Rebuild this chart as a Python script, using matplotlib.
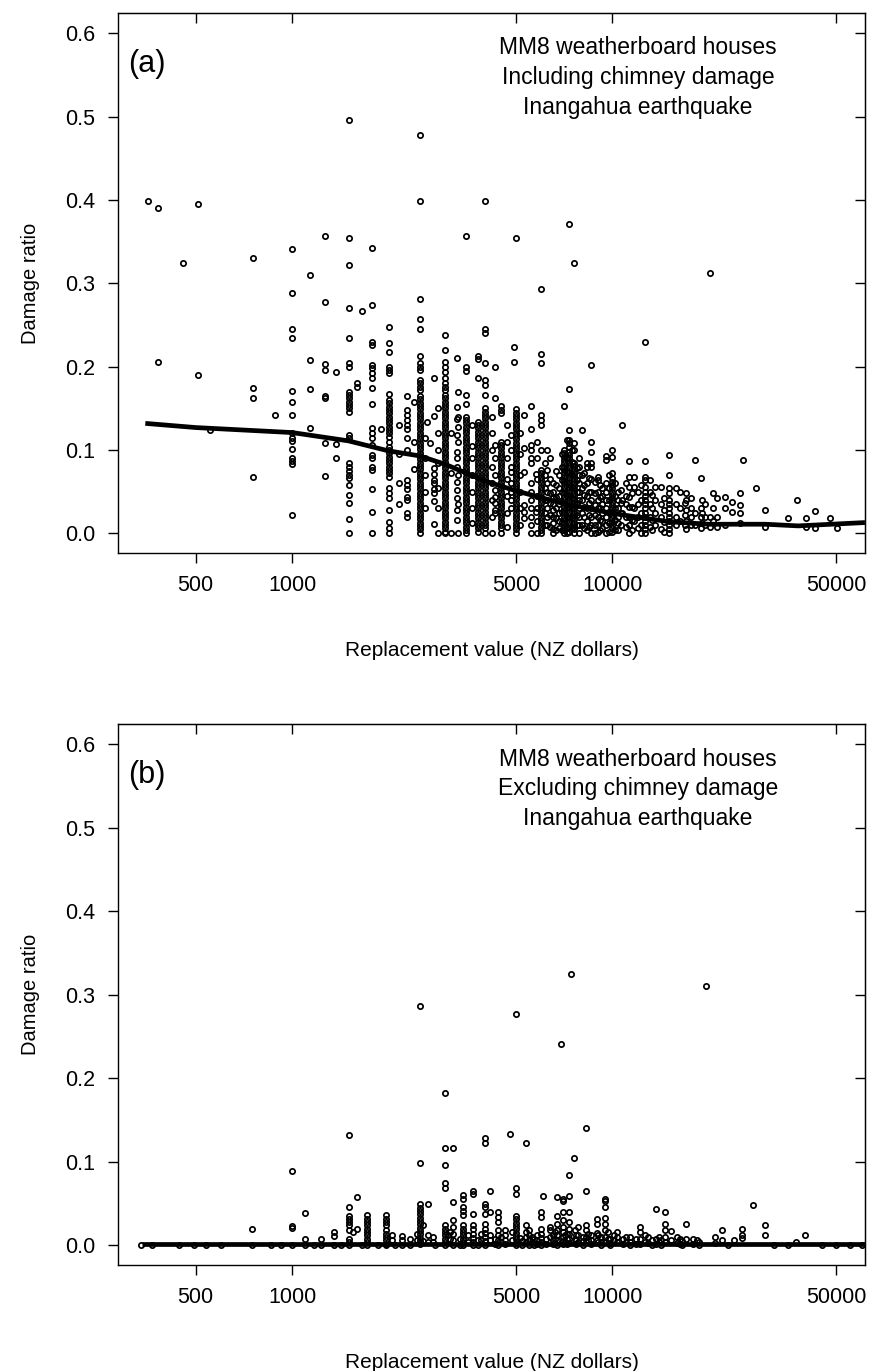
import matplotlib.pyplot as plt
from matplotlib.ticker import FixedLocator, NullLocator, FixedFormatter

plt.rcParams['font.family'] = ['Liberation Sans', 'DejaVu Sans']

# ---- panel (a): including chimney damage ----
# replacement values (NZ$) of the point columns, and the damage ratios in each column
a_value = [355, 382, 457, 508, 555, 757, 885, 1000, 1140, 1270, 1370, 1500, 1590, 1650,
           1770, 1890, 2000, 2280, 2400, 2500, 2640, 2690, 2770, 3000, 3140, 3270, 3500,
           3800, 4000, 4300, 4500, 4820, 4930, 5000, 5300, 5550, 5760, 6000, 6250, 6500,
           6800, 7050, 7340, 7600, 7850, 8060, 8300, 8600, 9000, 9300, 9560, 10000, 10400,
           10740, 11000, 11300, 11700, 12000, 12600, 13100, 13600, 14200, 15050, 15800,
           16300, 17000, 17600, 18100, 18900, 19500, 20200, 20600, 21200, 22500, 23600,
           25000, 25500, 28000, 30000, 35200, 37600, 40300, 43000, 47900, 50400,
           2150, 2600, 2850, 3300, 3650, 4200, 4700, 5150, 5800, 6150, 6400, 6650, 6950,
           7200, 7450, 7750, 8150, 8450, 8800, 9150, 9750, 10200, 10600, 11500, 12300,
           13300, 14500, 16800, 19000]
a_ratio = [
    [0.399],
    [0.391, 0.206],
    [0.325],
    [0.395, 0.19],
    [0.124],
    [0.331, 0.175, 0.163, 0.068],
    [0.142],
    [0.341, 0.288, 0.245, 0.234, 0.171, 0.158, 0.142, 0.12, 0.115, 0.111, 0.101, 0.091,
     0.087, 0.083, 0.022],
    [0.31, 0.208, 0.173, 0.127],
    [0.357, 0.278, 0.203, 0.196, 0.165, 0.162, 0.108, 0.069],
    [0.194, 0.107, 0.09],
    [0.496, 0.354, 0.322, 0.271, 0.235, 0.205, 0.2, 0.17, 0.166, 0.162, 0.158, 0.154, 0.15,
     0.146, 0.118, 0.115, 0.084, 0.08, 0.075, 0.07, 0.066, 0.058, 0.046, 0.037, 0.017, 0.0],
    [0.18, 0.176],
    [0.267],
    [0.343, 0.274, 0.23, 0.226, 0.202, 0.198, 0.192, 0.186, 0.175, 0.155, 0.126, 0.12,
     0.115, 0.106, 0.094, 0.09, 0.08, 0.076, 0.053, 0.026, 0.0],
    [0.125],
    [0.248, 0.228, 0.218, 0.2, 0.196, 0.192, 0.167, 0.16, 0.156, 0.152, 0.148, 0.144, 0.14,
     0.136, 0.132, 0.128, 0.124, 0.12, 0.116, 0.11, 0.104, 0.1, 0.096, 0.092, 0.088, 0.084,
     0.08, 0.076, 0.072, 0.068, 0.054, 0.048, 0.043, 0.028, 0.014, 0.006, 0.0],
    [0.165, 0.148, 0.142, 0.136, 0.13, 0.125, 0.114, 0.1, 0.064, 0.058, 0.053, 0.044, 0.04,
     0.024, 0.02],
    [0.158, 0.11, 0.077],
    [0.478, 0.399, 0.281, 0.257, 0.245, 0.213, 0.205, 0.2, 0.196, 0.184, 0.18, 0.176, 0.172,
     0.165, 0.161, 0.157, 0.153, 0.149, 0.145, 0.141, 0.137, 0.133, 0.129, 0.125, 0.121,
     0.117, 0.113, 0.109, 0.105, 0.101, 0.097, 0.093, 0.089, 0.085, 0.081, 0.077, 0.073,
     0.069, 0.065, 0.061, 0.057, 0.053, 0.049, 0.045, 0.041, 0.037, 0.033, 0.029, 0.025,
     0.021, 0.017, 0.013, 0.009, 0.005, 0.0],
    [0.134],
    [0.109],
    [0.186, 0.141, 0.078, 0.071, 0.064, 0.06, 0.053, 0.048, 0.039, 0.011],
    [0.238, 0.22, 0.206, 0.2, 0.194, 0.186, 0.18, 0.176, 0.172, 0.166, 0.162, 0.158, 0.154,
     0.15, 0.146, 0.142, 0.138, 0.134, 0.13, 0.126, 0.122, 0.118, 0.114, 0.11, 0.106,
     0.102, 0.098, 0.094, 0.09, 0.086, 0.082, 0.078, 0.074, 0.07, 0.066, 0.062, 0.058,
     0.054, 0.05, 0.046, 0.042, 0.038, 0.034, 0.03, 0.026, 0.022, 0.018, 0.014, 0.01,
     0.006, 0.002, 0.0],
    [0.12, 0.072, 0.0],
    [0.21, 0.152, 0.137, 0.118, 0.098, 0.09, 0.08, 0.062, 0.052, 0.042, 0.028, 0.016],
    [0.357, 0.2, 0.195, 0.166, 0.155, 0.14, 0.136, 0.132, 0.128, 0.124, 0.12, 0.116, 0.112,
     0.108, 0.104, 0.1, 0.096, 0.092, 0.088, 0.084, 0.08, 0.076, 0.072, 0.068, 0.064, 0.06,
     0.056, 0.052, 0.048, 0.044, 0.04, 0.036, 0.032, 0.028, 0.024, 0.02, 0.016, 0.012,
     0.008, 0.004, 0.0],
    [0.213, 0.209, 0.187, 0.134, 0.13, 0.126, 0.122, 0.118, 0.114, 0.11, 0.106, 0.102,
     0.098, 0.094, 0.09, 0.086, 0.082, 0.078, 0.074, 0.07, 0.066, 0.062, 0.058, 0.054, 0.05,
     0.046, 0.042, 0.038, 0.034, 0.03, 0.026, 0.022, 0.018, 0.014, 0.01, 0.006, 0.002],
    [0.399, 0.245, 0.241, 0.204, 0.184, 0.178, 0.166, 0.15, 0.146, 0.142, 0.138, 0.134,
     0.13, 0.126, 0.122, 0.118, 0.114, 0.11, 0.106, 0.102, 0.098, 0.094, 0.09, 0.086, 0.082,
     0.078, 0.074, 0.07, 0.066, 0.062, 0.058, 0.054, 0.05, 0.046, 0.042, 0.038, 0.034, 0.03,
     0.026, 0.022, 0.018, 0.014, 0.01, 0.006, 0.0],
    [0.2, 0.163, 0.106, 0.09, 0.07, 0.052, 0.044, 0.036, 0.028, 0.024],
    [0.153, 0.148, 0.144, 0.11, 0.106, 0.102, 0.098, 0.094, 0.09, 0.086, 0.082, 0.078,
     0.074, 0.07, 0.066, 0.062, 0.058, 0.054, 0.05, 0.046, 0.042, 0.038, 0.034, 0.03, 0.026,
     0.022, 0.018, 0.014, 0.01, 0.006, 0.0],
    [0.118, 0.1, 0.08, 0.074, 0.06, 0.05, 0.04, 0.03],
    [0.224, 0.206],
    [0.355, 0.149, 0.145, 0.141, 0.137, 0.133, 0.129, 0.125, 0.121, 0.117, 0.113, 0.109,
     0.105, 0.101, 0.097, 0.093, 0.089, 0.085, 0.081, 0.077, 0.073, 0.069, 0.065, 0.061,
     0.057, 0.053, 0.049, 0.045, 0.041, 0.037, 0.033, 0.029, 0.025, 0.021, 0.017, 0.013,
     0.009, 0.005, 0.0],
    [0.142, 0.102, 0.074, 0.034, 0.026, 0.018],
    [0.153, 0.125, 0.106, 0.1, 0.09, 0.084, 0.06, 0.05, 0.04, 0.03, 0.02, 0.01, 0.0],
    [0.071, 0.026],
    [0.293, 0.215, 0.204, 0.142, 0.136, 0.13, 0.1, 0.076, 0.072, 0.068, 0.064, 0.06, 0.056,
     0.052, 0.048, 0.044, 0.04, 0.036, 0.032, 0.028, 0.024, 0.02, 0.016, 0.012, 0.008,
     0.004, 0.0],
    [0.1, 0.076, 0.06, 0.05, 0.04, 0.03, 0.02, 0.01],
    [0.06, 0.05, 0.042, 0.035, 0.028, 0.02, 0.012, 0.005, 0.0],
    [0.07, 0.055, 0.045, 0.035, 0.025, 0.015, 0.006],
    [0.153, 0.1, 0.096, 0.092, 0.088, 0.084, 0.08, 0.076, 0.072, 0.068, 0.064, 0.06, 0.056,
     0.052, 0.048, 0.044, 0.04, 0.036, 0.032, 0.028, 0.024, 0.02, 0.016, 0.012, 0.008,
     0.004, 0.0],
    [0.371, 0.173, 0.124, 0.112, 0.108, 0.104, 0.098, 0.094, 0.09, 0.086, 0.082, 0.078,
     0.074, 0.07, 0.066, 0.062, 0.058, 0.054, 0.05, 0.046, 0.042, 0.038, 0.034, 0.03, 0.026,
     0.022, 0.018, 0.014, 0.01, 0.006, 0.002],
    [0.325, 0.108, 0.1, 0.085, 0.081, 0.077, 0.073, 0.069, 0.065, 0.061, 0.057, 0.053,
     0.049, 0.045, 0.041, 0.037, 0.033, 0.029, 0.025, 0.021, 0.017, 0.013, 0.009, 0.005, 0.0],
    [0.09, 0.08, 0.07, 0.06, 0.05, 0.04, 0.03, 0.02, 0.01, 0.0],
    [0.124, 0.07, 0.055, 0.04, 0.025, 0.01],
    [0.085, 0.08, 0.06, 0.045, 0.03, 0.015, 0.004],
    [0.202, 0.11, 0.098, 0.085, 0.08, 0.065, 0.05, 0.04, 0.03, 0.02, 0.01, 0.0],
    [0.068, 0.064, 0.05, 0.04, 0.03, 0.02, 0.01, 0.002],
    [0.055, 0.045, 0.035, 0.025, 0.015, 0.006],
    [0.093, 0.088, 0.06, 0.05, 0.04, 0.03, 0.02, 0.01, 0.0],
    [0.1, 0.092, 0.072, 0.066, 0.062, 0.058, 0.054, 0.05, 0.046, 0.042, 0.038, 0.034, 0.03,
     0.026, 0.022, 0.018, 0.014, 0.01, 0.006, 0.002],
    [0.05, 0.04, 0.03, 0.02, 0.012, 0.004],
    [0.13, 0.04, 0.025],
    [0.06, 0.045, 0.035, 0.02, 0.008],
    [0.087, 0.068, 0.056, 0.044, 0.032, 0.02, 0.01, 0.0],
    [0.068, 0.056, 0.03, 0.015],
    [0.05, 0.035, 0.02, 0.006],
    [0.23, 0.087, 0.068, 0.064, 0.056, 0.05, 0.045, 0.04, 0.035, 0.03, 0.025, 0.02, 0.015,
     0.01, 0.005, 0.0],
    [0.064, 0.05, 0.035, 0.02, 0.008],
    [0.056, 0.04, 0.025, 0.01],
    [0.056, 0.035, 0.02, 0.005],
    [0.094, 0.07, 0.054, 0.048, 0.04, 0.035, 0.03, 0.025, 0.02, 0.015, 0.01, 0.005, 0.0],
    [0.054, 0.035, 0.02, 0.01],
    [0.05, 0.03, 0.015],
    [0.048, 0.04, 0.028, 0.015, 0.005],
    [0.042, 0.03, 0.02, 0.01],
    [0.088, 0.025, 0.01],
    [0.067, 0.03, 0.02, 0.006],
    [0.035, 0.02, 0.01],
    [0.312, 0.02, 0.008],
    [0.048, 0.03, 0.015],
    [0.042, 0.02, 0.008],
    [0.044, 0.03, 0.01],
    [0.038, 0.026],
    [0.048, 0.034, 0.025, 0.012],
    [0.088],
    [0.055],
    [0.028, 0.008],
    [0.019],
    [0.04],
    [0.019, 0.008],
    [0.027, 0.006],
    [0.018],
    [0.006],
    # in-between columns of the crowded middle
    [0.13, 0.095, 0.06, 0.035],
    [0.115, 0.09, 0.07, 0.05, 0.03],
    [0.15, 0.12, 0.1, 0.085, 0.055, 0.03, 0.0],
    [0.17, 0.14, 0.128, 0.11, 0.07, 0.035, 0.0],
    [0.13, 0.105, 0.09, 0.07, 0.05, 0.03, 0.012],
    [0.14, 0.12, 0.1, 0.08, 0.06, 0.04, 0.02, 0.0],
    [0.13, 0.11, 0.09, 0.065, 0.045, 0.025, 0.008],
    [0.12, 0.095, 0.07, 0.05, 0.03, 0.01],
    [0.11, 0.09, 0.065, 0.045, 0.03, 0.015, 0.0],
    [0.085, 0.07, 0.055, 0.04, 0.025, 0.01],
    [0.09, 0.065, 0.048, 0.036, 0.022, 0.008],
    [0.075, 0.058, 0.044, 0.03, 0.018, 0.004],
    [0.095, 0.08, 0.064, 0.05, 0.038, 0.026, 0.014, 0.004],
    [0.112, 0.09, 0.074, 0.06, 0.046, 0.032, 0.02, 0.008, 0.0],
    [0.1, 0.086, 0.07, 0.056, 0.042, 0.03, 0.018, 0.006],
    [0.078, 0.064, 0.05, 0.036, 0.022, 0.01],
    [0.072, 0.058, 0.046, 0.032, 0.02, 0.006],
    [0.066, 0.05, 0.036, 0.022, 0.008],
    [0.062, 0.048, 0.034, 0.022, 0.01, 0.0],
    [0.058, 0.044, 0.03, 0.016, 0.004],
    [0.07, 0.055, 0.04, 0.026, 0.012, 0.002],
    [0.06, 0.045, 0.03, 0.016, 0.004],
    [0.052, 0.036, 0.024, 0.01],
    [0.048, 0.032, 0.016, 0.004],
    [0.058, 0.04, 0.024, 0.01, 0.0],
    [0.046, 0.03, 0.016, 0.004],
    [0.042, 0.028, 0.014, 0.002],
    [0.036, 0.022, 0.01],
    [0.04, 0.024, 0.012],
]
# smooth fit through panel (a)
a_fit_value = [348, 500, 1000, 1500, 2000, 2500, 3000, 4000, 5000, 7000, 10000, 15000,
               20000, 30000, 38000, 61400]
a_fit_ratio = [0.132, 0.127, 0.121, 0.111, 0.099, 0.093, 0.083, 0.063, 0.051, 0.036,
               0.024, 0.014, 0.011, 0.011, 0.009, 0.013]

# ---- panel (b): excluding chimney damage ----
b_value = [338, 364, 443, 494, 540, 600, 750, 860, 920, 1000, 1100, 1170, 1230, 1355,
           1420, 1500, 1545, 1595, 1650, 1710, 1850, 1960, 2100, 2200, 2340, 2500, 2570,
           2650, 2800, 3000, 3060, 3180, 3350, 3420, 3670, 3800, 4000, 4160, 4300, 4400,
           4620, 4770, 5000, 5150, 5200, 5370, 5500, 5700, 5800, 6000, 6090, 6370, 6500,
           6700, 6900, 7000, 7200, 7330, 7410, 7560, 7700, 7820, 8100, 8290, 8600, 8940,
           9200, 9500, 9800, 10300, 10800, 11330, 11800, 12200, 12950, 13300, 13700, 14200,
           14600, 15260, 15920, 16500, 17000, 17900, 18600, 19600, 20900, 21900, 23000,
           25300, 27500, 29900, 32000, 35200, 37500, 40000, 45000, 50000, 55000, 60000,
           2050, 2450, 2750, 3120, 3550, 3900, 4500, 4850, 5600, 6200, 6600, 7100, 7650,
           8400, 9000, 9650, 10100, 11000, 12600, 14000, 16200, 18300, 24000]
b_ratio = [
    [0.0], [0.0], [0.0], [0.0], [0.0], [0.0],
    [0.019, 0.0],
    [0.0], [0.0],
    [0.089, 0.023, 0.021, 0.0],
    [0.039, 0.007, 0.0],
    [0.0],
    [0.007, 0.0],
    [0.016, 0.011, 0.0],
    [0.0],
    [0.132, 0.046, 0.035, 0.031, 0.028, 0.024, 0.018, 0.008, 0.004, 0.0],
    [0.016],
    [0.058, 0.02],
    [0.0],
    [0.036, 0.032, 0.028, 0.024, 0.02, 0.016, 0.012, 0.008, 0.004, 0.0],
    [0.0],
    [0.036, 0.032, 0.028, 0.024, 0.018, 0.014, 0.01, 0.006, 0.002, 0.0],
    [0.0],
    [0.011, 0.006, 0.0],
    [0.008, 0.0],
    [0.287, 0.099, 0.049, 0.045, 0.041, 0.037, 0.033, 0.029, 0.025, 0.021, 0.017, 0.013,
     0.009, 0.005, 0.001],
    [0.024, 0.005],
    [0.05, 0.012, 0.004],
    [0.0],
    [0.183, 0.117, 0.096, 0.075, 0.069, 0.024, 0.02, 0.016, 0.012, 0.008, 0.004, 0.0],
    [0.012],
    [0.116, 0.052, 0.03, 0.022, 0.014, 0.006, 0.0],
    [0.008, 0.0],
    [0.06, 0.056, 0.046, 0.041, 0.036, 0.024, 0.02, 0.016, 0.012, 0.008, 0.004, 0.0],
    [0.065, 0.061, 0.038, 0.024, 0.019, 0.014, 0.009, 0.004, 0.0],
    [0.006, 0.0],
    [0.129, 0.122, 0.049, 0.046, 0.038, 0.025, 0.02, 0.015, 0.01, 0.005, 0.0],
    [0.065, 0.04, 0.012, 0.006],
    [0.008, 0.002],
    [0.04, 0.034, 0.028, 0.018, 0.012, 0.006, 0.0],
    [0.018, 0.012, 0.006, 0.002],
    [0.133],
    [0.277, 0.069, 0.062, 0.035, 0.031, 0.027, 0.023, 0.019, 0.015, 0.011, 0.007, 0.003,
     0.0],
    [0.009],
    [0.005, 0.0],
    [0.122, 0.024, 0.016, 0.01, 0.004],
    [0.018, 0.012, 0.006, 0.0],
    [0.008, 0.0],
    [0.012, 0.006, 0.002],
    [0.04, 0.034, 0.02, 0.014, 0.009, 0.004, 0.0],
    [0.059],
    [0.022, 0.018, 0.01],
    [0.012, 0.006, 0.002],
    [0.058, 0.035, 0.025, 0.018, 0.012, 0.006, 0.0],
    [0.241],
    [0.056, 0.053, 0.04, 0.03, 0.022, 0.016, 0.01, 0.005, 0.001],
    [0.014, 0.008, 0.002],
    [0.084, 0.059, 0.04, 0.028, 0.02, 0.014, 0.008, 0.003],
    [0.325],
    [0.105],
    [0.012, 0.006, 0.002],
    [0.022, 0.012, 0.004],
    [0.01, 0.005, 0.0],
    [0.14, 0.065, 0.024, 0.018, 0.01, 0.004],
    [0.012, 0.006, 0.002],
    [0.032, 0.026, 0.015, 0.006],
    [0.01, 0.004, 0.0],
    [0.055, 0.053, 0.046, 0.033, 0.026, 0.018, 0.01, 0.004],
    [0.008, 0.003, 0.0],
    [0.016, 0.01, 0.004],
    [0.008, 0.002],
    [0.01, 0.004, 0.0],
    [0.007, 0.002],
    [0.022, 0.016, 0.008, 0.002],
    [0.01, 0.003],
    [0.006, 0.0],
    [0.043, 0.008, 0.002],
    [0.006, 0.0],
    [0.04, 0.025, 0.018, 0.01, 0.004],
    [0.017, 0.006],
    [0.01, 0.003],
    [0.005, 0.0],
    [0.026, 0.008],
    [0.008, 0.002],
    [0.004, 0.0],
    [0.311],
    [0.01, 0.003],
    [0.018, 0.006],
    [0.0],
    [0.02, 0.012, 0.009],
    [0.048],
    [0.024, 0.012],
    [0.0],
    [0.0],
    [0.004],
    [0.012],
    [0.0], [0.0], [0.0], [0.0],
    # low points filling the band just above zero
    [0.012, 0.006], [0.014, 0.006], [0.01, 0.004], [0.016, 0.008], [0.012, 0.004],
    [0.014, 0.006], [0.01, 0.004], [0.016, 0.006], [0.01, 0.004], [0.008, 0.002],
    [0.016, 0.008], [0.012, 0.004], [0.018, 0.008], [0.014, 0.006], [0.012, 0.004],
    [0.016, 0.008], [0.012, 0.006], [0.01, 0.004], [0.012, 0.004], [0.01, 0.004],
    [0.008, 0.002], [0.006], [0.006],
]
b_fit_value = [340, 1000, 5000, 20000, 61400]
b_fit_ratio = [0.001, 0.001, 0.001, 0.001, 0.001]

x_ticks = [500, 1000, 5000, 10000, 50000]
y_ticks = [0.0, 0.1, 0.2, 0.3, 0.4, 0.5, 0.6]


def spread(values, ratios):
    xs = [v for v, rs in zip(values, ratios) for r in rs]
    ys = [r for rs in ratios for r in rs]
    return xs, ys


fig = plt.figure(figsize=(8.7, 13.71), dpi=100)
ax_a = fig.add_axes([0.1362, 0.5966, 0.858, 0.3939])
ax_b = fig.add_axes([0.1362, 0.0773, 0.858, 0.3946])

panels = [
    (ax_a, a_value, a_ratio, a_fit_value, a_fit_ratio, '(a)',
     'MM8 weatherboard houses\nIncluding chimney damage\nInangahua earthquake'),
    (ax_b, b_value, b_ratio, b_fit_value, b_fit_ratio, '(b)',
     'MM8 weatherboard houses\nExcluding chimney damage\nInangahua earthquake'),
]

for ax, vals, rats, fx, fy, tag, note in panels:
    xs, ys = spread(vals, rats)
    ax.plot(xs, ys, 'o', mfc='none', mec='black', ms=3.8, mew=1.25)
    ax.plot(fx, fy, '-', color='black', lw=3.4, solid_capstyle='butt')
    ax.set_xscale('log')
    ax.set_xlim(287, 61400)
    ax.set_ylim(-0.0236, 0.6244)
    ax.xaxis.set_major_locator(FixedLocator(x_ticks))
    ax.xaxis.set_major_formatter(FixedFormatter([str(t) for t in x_ticks]))
    ax.xaxis.set_minor_locator(NullLocator())
    ax.set_yticks(y_ticks)
    ax.set_yticklabels(['%.1f' % t for t in y_ticks])
    ax.tick_params(axis='x', direction='out', length=7, width=1, labelsize=15.5, pad=9)
    ax.tick_params(axis='y', direction='out', length=7, width=1, labelsize=15.5, pad=10)
    for s in ax.spines.values():
        s.set_linewidth(1.0)
    top = ax.secondary_xaxis('top')
    top.xaxis.set_major_locator(FixedLocator(x_ticks))
    top.xaxis.set_minor_locator(NullLocator())
    top.tick_params(direction='in', length=7, width=1, labeltop=False)
    right = ax.secondary_yaxis('right')
    right.set_yticks(y_ticks)
    right.tick_params(direction='in', length=7, width=1, labelright=False)
    ax.set_xlabel('Replacement value (NZ dollars)', fontsize=15, labelpad=32)
    ax.set_ylabel('Damage ratio', fontsize=14.5, labelpad=18)
    ax.text(0.013, 0.906, tag, transform=ax.transAxes, fontsize=22,
            ha='left', va='center')
    ax.text(0.696, 0.88, note, transform=ax.transAxes, fontsize=16.5,
            ha='center', va='center', linespacing=1.38)

fig.savefig('out.png', dpi=100)
